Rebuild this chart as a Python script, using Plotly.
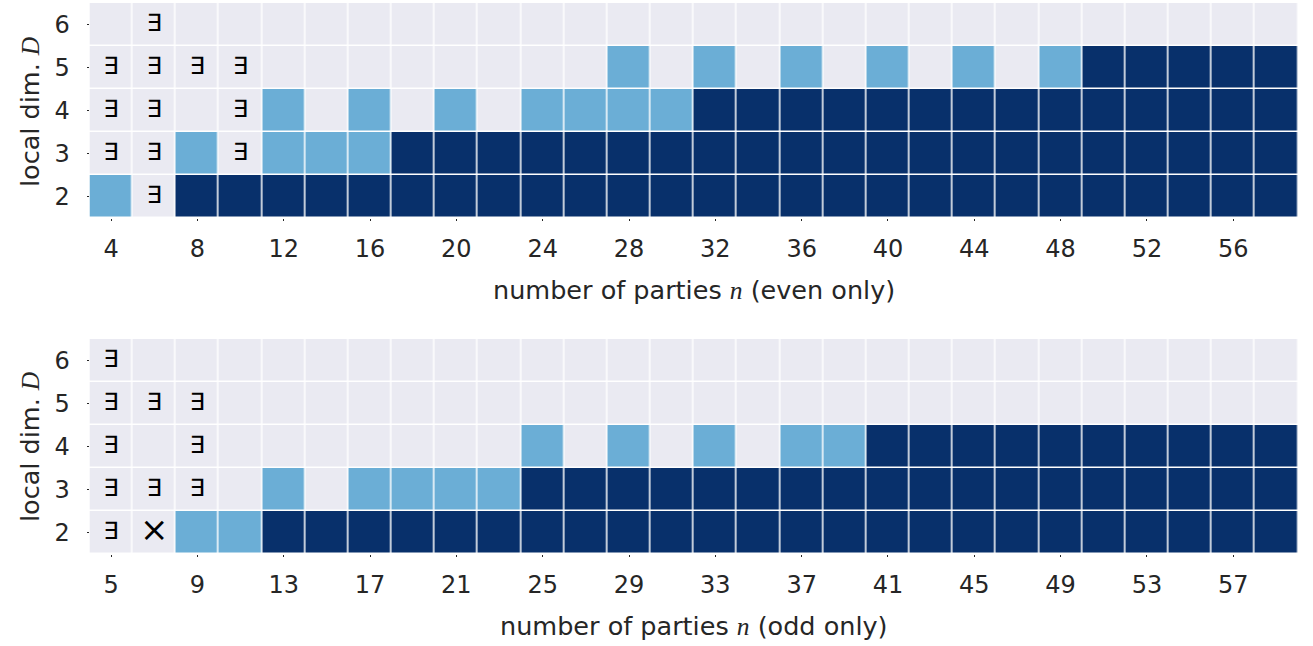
import plotly.graph_objects as go

# ---------------- data ----------------
D_vals = [2, 3, 4, 5, 6]
n_even = list(range(4, 60, 2))   # 28 columns
n_odd = list(range(5, 61, 2))    # 28 columns

# status: 0 = unknown (grey), 1 = light blue, 2 = dark blue
even_D2 = [1, 0] + [2] * 26
even_D3 = [0, 0, 1, 0, 1, 1, 1] + [2] * 21
even_D4 = [0, 0, 0, 0, 1, 0, 1, 0, 1, 0, 1, 1, 1, 1] + [2] * 14
even_D5 = [0] * 12 + [1, 0, 1, 0, 1, 0, 1, 0, 1, 0, 1] + [2] * 5
even_D6 = [0] * 28

odd_D2 = [0, 0, 1, 1] + [2] * 24
odd_D3 = [0, 0, 0, 0, 1, 0, 1, 1, 1, 1] + [2] * 18
odd_D4 = [0] * 10 + [1, 0, 1, 0, 1, 0, 1, 1] + [2] * 10
odd_D5 = [0] * 28
odd_D6 = [0] * 28

# existence marks (n, D)
even_exists_n = [6, 4, 6, 10, 4, 6, 10, 4, 6, 8, 10, 6]
even_exists_D = [2, 3, 3, 3, 4, 4, 4, 5, 5, 5, 5, 6]
odd_exists_n = [5, 5, 7, 9, 5, 9, 5, 7, 9, 5]
odd_exists_D = [2, 3, 3, 3, 4, 4, 5, 5, 5, 6]
odd_notexists_n = [7]
odd_notexists_D = [2]

even_ticks = list(range(4, 58, 4))
odd_ticks = list(range(5, 59, 4))

# ---------------- figure ----------------
W, H = 1313, 646
TXT = "#262626"
FONT = "DejaVu Sans"
cscale = [[0, "#EAEAF2"], [0.5, "#6BAED6"], [1, "#08306B"]]


def px_x(v):
    return v / W


def px_y(v):
    return 1 - v / H


fig = go.Figure()

even_z = [even_D2, even_D3, even_D4, even_D5, even_D6]
odd_z = [odd_D2, odd_D3, odd_D4, odd_D5, odd_D6]

fig.add_trace(go.Heatmap(z=even_z, x=n_even, y=D_vals, zmin=0, zmax=2,
                         colorscale=cscale, showscale=False, xgap=1.5, ygap=1.5,
                         xaxis="x", yaxis="y", hoverinfo="skip"))
fig.add_trace(go.Heatmap(z=odd_z, x=n_odd, y=D_vals, zmin=0, zmax=2,
                         colorscale=cscale, showscale=False, xgap=1.5, ygap=1.5,
                         xaxis="x2", yaxis="y2", hoverinfo="skip"))

fig.add_trace(go.Scatter(x=even_exists_n, y=even_exists_D, mode="text", text=["∃"] * len(even_exists_n),
                         textfont=dict(family=FONT, size=24, color="black"),
                         xaxis="x", yaxis="y", hoverinfo="skip", showlegend=False))
fig.add_trace(go.Scatter(x=odd_exists_n, y=odd_exists_D, mode="text", text=["∃"] * len(odd_exists_n),
                         textfont=dict(family=FONT, size=24, color="black"),
                         xaxis="x2", yaxis="y2", hoverinfo="skip", showlegend=False))
fig.add_trace(go.Scatter(x=odd_notexists_n, y=odd_notexists_D, mode="text", text=["×"] * len(odd_notexists_n),
                         textfont=dict(family=FONT, size=34, color="black"),
                         xaxis="x2", yaxis="y2", hoverinfo="skip", showlegend=False))

x0, x1 = px_x(89.5), px_x(1298)
top_dom = [px_y(218), px_y(3)]
bot_dom = [px_y(554), px_y(339)]

axis_common = dict(showgrid=False, zeroline=False, showline=False, ticks="outside",
                   ticklen=2, tickwidth=1, tickcolor=TXT, automargin=False,
                   tickfont=dict(family=FONT, size=24, color=TXT))

fig.update_layout(
    width=W, height=H, margin=dict(l=0, r=0, t=0, b=0, autoexpand=False),
    paper_bgcolor="white", plot_bgcolor="white", showlegend=False,
    xaxis=dict(domain=[x0, x1], range=[n_even[0] - 1, n_even[-1] + 1], tickvals=even_ticks,
               anchor="y", ticklabelstandoff=7, **axis_common),
    yaxis=dict(domain=top_dom, range=[1.5, 6.5], tickvals=D_vals, anchor="x",
               ticklabelstandoff=12, **axis_common),
    xaxis2=dict(domain=[x0, x1], range=[n_odd[0] - 1, n_odd[-1] + 1], tickvals=odd_ticks,
                anchor="y2", ticklabelstandoff=7, **axis_common),
    yaxis2=dict(domain=bot_dom, range=[1.5, 6.5], tickvals=D_vals, anchor="x2",
                ticklabelstandoff=12, **axis_common),
)

MATH = "<span style=\"font-family:'Liberation Serif'\"><i>%s</i></span>"
title_font = dict(family=FONT, size=25.5, color=TXT)
fig.add_annotation(x=(x0 + x1) / 2, y=px_y(290), xref="paper", yref="paper",
                   text="number of parties " + MATH % "n" + " (even only)", showarrow=False,
                   font=title_font, xanchor="center", yanchor="middle")
fig.add_annotation(x=(x0 + x1) / 2, y=px_y(626), xref="paper", yref="paper",
                   text="number of parties " + MATH % "n" + " (odd only)", showarrow=False,
                   font=title_font, xanchor="center", yanchor="middle")
fig.add_annotation(x=px_x(30), y=px_y(112), xref="paper", yref="paper",
                   text="local dim. " + MATH % "D", showarrow=False, textangle=-90,
                   font=title_font, xanchor="center", yanchor="middle")
fig.add_annotation(x=px_x(30), y=px_y(447), xref="paper", yref="paper",
                   text="local dim. " + MATH % "D", showarrow=False, textangle=-90,
                   font=title_font, xanchor="center", yanchor="middle")

fig.write_html("out.html", config={"displayModeBar": False},
               post_script="document.body.style.margin='0px';")
